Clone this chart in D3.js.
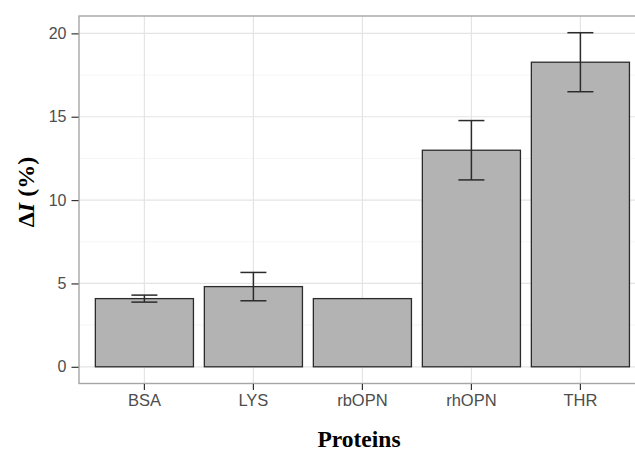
<!DOCTYPE html>
<html><head><meta charset="utf-8">
<script src="https://cdn.jsdelivr.net/npm/d3@7"></script>
<style>body{margin:0;background:#fff}svg{display:block}</style>
</head><body>
<svg id="c" width="635" height="452"></svg>
<script>
const categories = ["BSA", "LYS", "rbOPN", "rhOPN", "THR"];
const values = [4.09, 4.81, 4.09, 12.99, 18.27];
const errors = [0.21, 0.85, null, 1.78, 1.77];
const yTicks = [0, 5, 10, 15, 20];
const yMinorTicks = [2.5, 7.5, 12.5, 17.5];

(function () {
const svg = d3.select("#c");
const pL = 79, pT = 16, pB = 383.5, pR = 79 + 5.2 * 109;

const x = d3.scaleBand().domain(categories).range([pL, pR]).paddingInner(0.1).paddingOuter(0.15);
const maxV = d3.max(values.map((v, i) => v + (errors[i] || 0)));
const expand = maxV * 0.05;
const y = d3.scaleLinear().domain([0 - expand, maxV + expand]).range([pB, pT]);

const g = svg.append("g");
g.selectAll("line.minor").data(yMinorTicks).join("line")
  .attr("x1", pL).attr("x2", pR).attr("y1", d => y(d)).attr("y2", d => y(d))
  .attr("stroke", "#f3f3f3").attr("stroke-width", 0.8);
g.selectAll("line.majy").data(yTicks).join("line")
  .attr("x1", pL).attr("x2", pR).attr("y1", d => y(d)).attr("y2", d => y(d))
  .attr("stroke", "#e4e4e4").attr("stroke-width", 1.2);
g.selectAll("line.majx").data(categories).join("line")
  .attr("x1", d => x(d) + x.bandwidth() / 2).attr("x2", d => x(d) + x.bandwidth() / 2)
  .attr("y1", pT).attr("y2", pB)
  .attr("stroke", "#e4e4e4").attr("stroke-width", 1.2);

g.selectAll("rect.bar").data(categories).join("rect")
  .attr("x", d => x(d)).attr("width", x.bandwidth())
  .attr("y", (d, i) => y(values[i])).attr("height", (d, i) => y(0) - y(values[i]))
  .attr("fill", "#b3b3b3").attr("stroke", "#2b2b2b").attr("stroke-width", 1.3);

const ew = x.bandwidth() * 0.265;
const eb = categories.map((c, i) => ({c, v: values[i], e: errors[i]})).filter(d => d.e != null);
const eg = g.selectAll("g.err").data(eb).join("g").attr("stroke", "#2b2b2b").attr("stroke-width", 1.5);
const cx = d => x(d.c) + x.bandwidth() / 2;
eg.append("line").attr("x1", cx).attr("x2", cx)
  .attr("y1", d => y(d.v - d.e)).attr("y2", d => y(d.v + d.e));
eg.append("line").attr("x1", d => cx(d) - ew / 2).attr("x2", d => cx(d) + ew / 2)
  .attr("y1", d => y(d.v + d.e)).attr("y2", d => y(d.v + d.e));
eg.append("line").attr("x1", d => cx(d) - ew / 2).attr("x2", d => cx(d) + ew / 2)
  .attr("y1", d => y(d.v - d.e)).attr("y2", d => y(d.v - d.e));

svg.append("rect").attr("x", pL).attr("y", pT).attr("width", pR - pL).attr("height", pB - pT)
  .attr("fill", "none").attr("stroke", "#a6a6a6").attr("stroke-width", 1.4);

const yAxis = svg.append("g").attr("transform", `translate(${pL - 0.5},0)`)
  .call(d3.axisLeft(y).tickValues(yTicks).tickSize(7).tickPadding(5).tickFormat(d3.format("d")));
yAxis.select(".domain").remove();
yAxis.selectAll(".tick line").attr("stroke", "#333").attr("stroke-width", 1.2);
yAxis.selectAll(".tick text").attr("fill", "#4d4d4d").style("font-family", "'Liberation Sans', Arial, sans-serif").style("font-size", "16px");

const xAxis = svg.append("g").attr("transform", `translate(0,${pB + 0.5})`)
  .call(d3.axisBottom(x).tickSize(6).tickPadding(4));
xAxis.select(".domain").remove();
xAxis.selectAll(".tick line").attr("stroke", "#333").attr("stroke-width", 1.2);
xAxis.selectAll(".tick text").attr("fill", "#4d4d4d").style("font-family", "'Liberation Sans', Arial, sans-serif").style("font-size", "16.5px");

svg.append("text").attr("x", 359).attr("y", 446.5).attr("text-anchor", "middle")
  .style("font-family", "'Liberation Serif', 'Times New Roman', serif").style("font-weight", "bold").style("font-size", "23.5px")
  .attr("fill", "#000").text("Proteins");
const yt = svg.append("text").attr("transform", "translate(33.5,192) rotate(-90)").attr("text-anchor", "middle")
  .style("font-family", "'Liberation Serif', 'Times New Roman', serif").style("font-weight", "bold").style("font-size", "24px")
  .attr("fill", "#000");
yt.append("tspan").text("Δ");
yt.append("tspan").style("font-style", "italic").text("I");
yt.append("tspan").text(" (%)");
})();
</script>
</body></html>
